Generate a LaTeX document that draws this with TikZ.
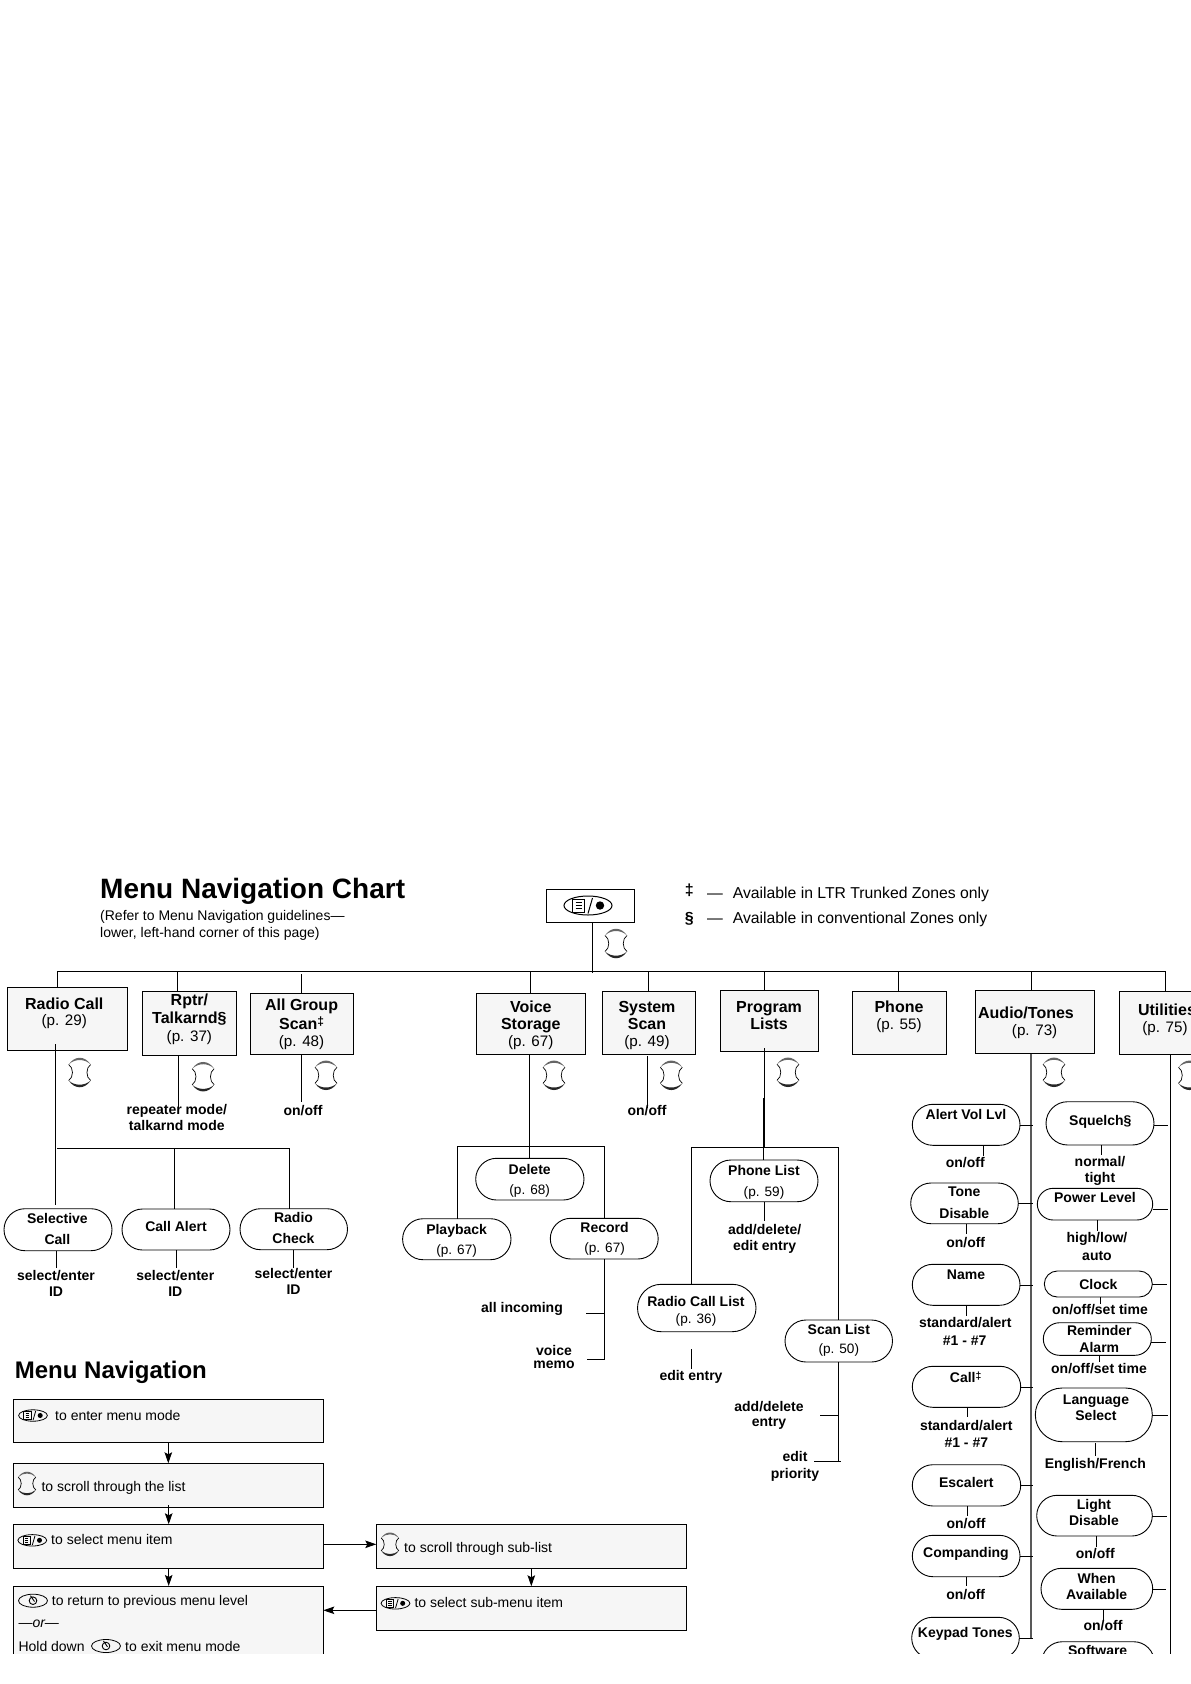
\documentclass[tikz,border=0pt]{standalone}
\usepackage{fontspec}
\setmainfont{Liberation Sans}
\usetikzlibrary{shapes.misc,arrows.meta}
\definecolor{boxfill}{HTML}{F6F6F6}
\newcount\tn
\newcommand\lb[4][bl]{\global\advance\tn by 1 \node[#1] (t\the\tn) at (#2,#3) {#4};}
\newcommand\mkbox[6][menubox]{\node[#1,minimum width={(#4-#3)*1pt},minimum height={(#6-#5)*1pt}] (#2) at ({(#3+#4)/2},{(#5+#6)/2}) {};}
\newcommand\pill[5]{\node[pillbox,minimum width={(#3-#2)*1pt},minimum height={(#5-#4)*1pt}] (#1) at ({(#2+#3)/2},{(#4+#5)/2}) {};}
% vertical line from y to the top of a node / from the bottom of a node to y
\newcommand\toN[3]{\draw[ln] (#1,#2) -- (#1,#2 |- #3.north);}
\newcommand\frS[3]{\draw[ln] (#1,#2 |- #3.south) -- (#1,#2);}
\newcommand\hrt[3]{\draw[ln] (#2.east |- 0,#1) -- (#3,#1);}
\newcommand\updag[1]{\raisebox{3.2pt}{\fontsize{#1}{#1}\selectfont ‡}}
\newcommand\keybody[2]{%
  \draw[line width=#1] (0,0) ellipse [x radius=24pt,y radius=9.5pt];
  \draw[line width=#1] (-15.5,-6.5) rectangle (-3.5,6.5);
  \foreach \yy in {-3.2,0,3.2}{\draw[line width=#2] (-12.5,\yy) -- (-6.5,\yy);}
  \draw[line width=#1] (4.5,-7.5) -- (0,8);
  \fill (12,0) circle [radius=4.2pt];
}
\tikzset{
  ln/.style={line width=1pt,black},
  arr/.style={line width=1pt,black,-{Stealth[length=11pt,width=7.5pt,inset=2pt]}},
  menubox/.style={draw=black,line width=1pt,fill=boxfill,rectangle,inner sep=0pt,outer sep=0pt},
  pillbox/.style={draw=black,line width=.9pt,rounded rectangle,inner sep=0pt,outer sep=0pt},
  bl/.style={anchor=base,inner sep=0pt,font=\fontsize{14}{16}\selectfont\bfseries},
  rg/.style={anchor=base,inner sep=0pt,font=\fontsize{13.6}{16}\selectfont},
  hb/.style={anchor=base,inner sep=0pt,font=\fontsize{16}{18}\selectfont\bfseries},
  hr/.style={anchor=base,inner sep=0pt,font=\fontsize{15.2}{18}\selectfont},
  note/.style={anchor=base west,inner sep=0pt,font=\fontsize{14}{16}\selectfont},
  legend/.style={anchor=base west,inner sep=0pt,font=\fontsize{15.75}{18}\selectfont},
  legendb/.style={anchor=base,inner sep=0pt,font=\fontsize{16}{18}\selectfont\bfseries},
  scrollkey/.pic={
    \draw[line width=.7pt] (-11,-8) .. controls (-6,-5) and (-6,5) .. (-11,8);
    \draw[line width=.7pt] (11,-8) .. controls (6,-5) and (6,5) .. (11,8);
    \fill[black!60] (-11,-8) .. controls (-5,-17) and (5,-17) .. (11,-8)
       .. controls (5,-14) and (-5,-14) .. (-11,-8) -- cycle;
    \fill[black!85] (-11,8) .. controls (-5,17) and (5,17) .. (11,8)
       .. controls (5,13.6) and (-5,13.6) .. (-11,8) -- cycle;
  },
  menukey/.pic={\keybody{1pt}{.8pt}},
  smallkey/.pic={\keybody{.8pt}{.45pt}},
  backkey/.pic={
    \draw[line width=.8pt] (0,0) ellipse [x radius=14.5pt,y radius=6.5pt];
    \draw[line width=.9pt] (0,0) circle [radius=3.8pt];
    \draw[line width=.9pt] (-2.5,-5) -- (1.5,.8);
  },
}
\begin{document}
\begin{tikzpicture}[x=1pt,y=-1pt]
\useasboundingbox (0,0) rectangle (1191,1684);
\begin{scope}
\clip (0,0) rectangle (1191,1653.3);

% ---------- heading
\node[anchor=base west,inner sep=0pt,font=\fontsize{28}{30}\selectfont\bfseries] (title) at (100,898) {Menu Navigation Chart};
\lb[note]{100}{920}{(Refer to Menu Navigation guidelines—}
\lb[note]{100}{937}{lower, left-hand corner of this page)}
\lb[legendb]{689.3}{895}{‡}
\lb[legendb]{689.3}{923}{§}
\lb[legend]{707}{898.7}{—}
\lb[legend]{707}{923.7}{—}
\lb[legend]{732.6}{898.7}{Available in LTR Trunked Zones only}
\lb[legend]{732.6}{923.7}{Available in conventional Zones only}

% ---------- top key
\node[draw=black,line width=1pt,rectangle,inner sep=0pt,outer sep=0pt,minimum width=88pt,minimum height=33pt] (top) at (590,905.5) {};
\pic at (588,905.5) {menukey};
\pic at (616,943.5) {scrollkey};

% ---------- menu boxes
\mkbox{radio}{7}{127}{987.3}{1050.7}
\mkbox{rptr}{142}{236}{991.3}{1055.3}
\mkbox{allgroup}{250}{353}{993.3}{1054.7}
\mkbox{voice}{476}{585}{993.3}{1054.7}
\mkbox{system}{602}{695}{991.3}{1054.7}
\mkbox{program}{720}{818}{990.3}{1051.7}
\mkbox{phone}{852.5}{946}{991.3}{1054.7}
\mkbox{audio}{975}{1094}{990.3}{1053.7}
\mkbox{util}{1119}{1240}{991.3}{1054.7}

\lb[hb]{64.3}{1009}{Radio Call}\lb[hr]{64.3}{1025.7}{(p. 29)}
\lb[hb]{189.4}{1005.7}{Rptr/}\lb[hb]{189.4}{1023.3}{Talkarnd§}\lb[hr]{189.4}{1041}{(p. 37)}
\lb[hb]{301.6}{1010.7}{All Group}\lb[hb]{301.6}{1029}{Scan\updag{12}}\lb[hr]{301.6}{1046.3}{(p. 48)}
\lb[hb]{530.8}{1012.7}{Voice}\lb[hb]{530.8}{1029.3}{Storage}\lb[hr]{530.8}{1046.3}{(p. 67)}
\lb[hb]{647}{1012.7}{System}\lb[hb]{647}{1029.3}{Scan}\lb[hr]{647}{1046.3}{(p. 49)}
\lb[hb]{769}{1012}{Program}\lb[hb]{769}{1029}{Lists}
\lb[hb]{899}{1012}{Phone}\lb[hr]{899}{1029.3}{(p. 55)}
\lb[hb]{1026}{1018}{Audio/Tones}\lb[hr]{1034.6}{1035}{(p. 73)}
\lb[hb]{1167}{1015.7}{Utilities}\lb[hr]{1165}{1032.3}{(p. 75)}

\pic at (79.7,1072.5) {scrollkey};
\pic at (203.2,1076.7) {scrollkey};
\pic at (326,1075.3) {scrollkey};
\pic at (554,1075.3) {scrollkey};
\pic at (671.3,1075.3) {scrollkey};
\pic at (788,1072.3) {scrollkey};
\pic at (1054,1072.3) {scrollkey};
\pic at (1189.5,1075.3) {scrollkey};

% ---------- radio call branch
\pill{selective}{4}{112}{1208.7}{1250.7}
\pill{callalert}{122}{230}{1209}{1250}
\pill{radiocheck}{240}{347.5}{1208.7}{1249.7}
\lb{57.4}{1223.3}{Selective}\lb{57.4}{1244}{Call}
\lb{176}{1231}{Call Alert}
\lb{293.5}{1222.3}{Radio}\lb{293.5}{1243.3}{Check}
\lb{56}{1280}{select/enter}\lb{56}{1296}{ID}
\lb{175.3}{1280}{select/enter}\lb{175.3}{1296}{ID}
\lb{293.5}{1278}{select/enter}\lb{293.5}{1294.7}{ID}
\lb{176.8}{1114}{repeater mode/}\lb{176.8}{1130}{talkarnd mode}
\lb{303}{1115.7}{on/off}
\lb{647}{1115.7}{on/off}

% ---------- voice storage branch
\pill{delete}{475.7}{584}{1158.3}{1200}
\pill{playback}{402.6}{511}{1218.7}{1259.7}
\pill{record}{550.3}{658.2}{1218.3}{1259}
\lb{529.7}{1174}{Delete}\lb[rg]{529.7}{1194.3}{(p. 68)}
\lb{456.6}{1234}{Playback}\lb[rg]{456.6}{1254.7}{(p. 67)}
\lb{604.6}{1232}{Record}\lb[rg]{604.6}{1252.3}{(p. 67)}
\lb{522}{1312.7}{all incoming}
\lb{554}{1355.7}{voice}\lb{554}{1368.7}{memo}

% ---------- program lists branch
\pill{phonelist}{710}{818}{1160}{1201.7}
\pill{radiolist}{637.5}{756}{1284.3}{1331.7}
\pill{scanlist}{785}{892.5}{1320}{1362}
\lb{764}{1175}{Phone List}\lb[rg]{764}{1196}{(p. 59)}
\lb{764.6}{1234}{add/delete/}\lb{764.6}{1250}{edit entry}
\lb{696}{1306.7}{Radio Call List}\lb[rg]{696}{1323.3}{(p. 36)}
\lb{691}{1380.7}{edit entry}
\lb{838.8}{1334}{Scan List}\lb[rg]{838.8}{1353.3}{(p. 50)}
\lb{769}{1411}{add/delete}\lb{769}{1426.7}{entry}
\lb{795}{1461.7}{edit}\lb{795}{1478.7}{priority}

% ---------- audio/tones left column
\pill{alertvol}{912.3}{1020}{1104.3}{1145.3}
\pill{tone}{910.7}{1018.3}{1183}{1223.7}
\pill{name}{912.3}{1020}{1264.3}{1305.3}
\pill{call}{912.3}{1020.7}{1366.3}{1407.3}
\pill{escalert}{912.3}{1020.7}{1464.7}{1506}
\pill{companding}{912.3}{1020}{1535.3}{1576.7}
\pill{keypad}{911.7}{1019.3}{1617.3}{1658.7}
\lb{966}{1119}{Alert Vol Lvl}\lb{965.3}{1167.7}{on/off}
\lb{964.3}{1196.7}{Tone}\lb{964.3}{1218}{Disable}\lb{965.7}{1247.3}{on/off}
\lb{966}{1279}{Name}\lb{965.3}{1327.7}{standard/alert}\lb{964.7}{1345}{\#1 - \#7}
\lb{965.7}{1382.7}{Call\updag{10.5}}\lb{966.3}{1430}{standard/alert}\lb{966.3}{1447}{\#1 - \#7}
\lb{966.3}{1487.7}{Escalert}\lb{966}{1528}{on/off}
\lb{966}{1557.7}{Companding}\lb{965.7}{1599}{on/off}
\lb{965.3}{1637}{Keypad Tones}

% ---------- audio/tones right column
\pill{squelch}{1046}{1154}{1101.7}{1145}
\pill{power}{1037.3}{1152.7}{1188.3}{1220}
\pill{clock}{1044.3}{1152.3}{1271}{1297}
\pill{reminder}{1043.3}{1151.3}{1322.7}{1355.3}
\pill{language}{1035.3}{1152.3}{1388}{1441.7}
\pill{light}{1036.7}{1152.3}{1495.3}{1536}
\pill{when}{1041}{1152.7}{1568.3}{1609.3}
\pill{software}{1041.7}{1154.3}{1641.7}{1683}
\lb{1100.3}{1125}{Squelch§}\lb{1100}{1166.3}{normal/}\lb{1100}{1182}{tight}
\lb{1095}{1202}{Power Level}\lb{1097}{1242.7}{high/low/}\lb{1097}{1260}{auto}
\lb{1098.3}{1289}{Clock}\lb{1100}{1314.7}{on/off/set time}
\lb{1099.3}{1335}{Reminder}\lb{1099.3}{1352.3}{Alarm}\lb{1099}{1373.7}{on/off/set time}
\lb{1096}{1404}{Language}\lb{1096}{1420.7}{Select}\lb{1095.3}{1468.7}{English/French}
\lb{1094}{1509}{Light}\lb{1094}{1525.7}{Disable}\lb{1095.3}{1558.7}{on/off}
\lb{1096.7}{1583}{When}\lb{1096.7}{1599.7}{Available}\lb{1103}{1630.7}{on/off}
\lb{1097.7}{1655}{Software}

% ---------- how-to panel
\node[anchor=base west,inner sep=0pt,font=\fontsize{24}{26}\selectfont\bfseries] (navtitle) at (14.7,1378.3) {Menu Navigation};
\mkbox{nav1}{13.3}{323.3}{1399.3}{1442.3}
\mkbox{nav2}{13.3}{323.3}{1463.3}{1507.3}
\mkbox{nav3}{13.3}{323.3}{1524.3}{1568.3}
\mkbox{nav4}{13.3}{323.3}{1586}{1700}
\mkbox{navA}{376.3}{686.6}{1524.3}{1568.3}
\mkbox{navB}{376.3}{686.6}{1586.3}{1630.3}
\pic[scale=.6] at (33,1415.5) {smallkey};
\lb[note]{55}{1420}{to enter menu mode}
\pic[scale=.8] at (27,1483.5) {scrollkey};
\lb[note]{41.3}{1491}{to scroll through the list}
\pic[scale=.6] at (32.3,1540.3) {smallkey};
\lb[note]{51}{1544.7}{to select menu item}
\pic at (33,1600.7) {backkey};
\lb[note]{51.7}{1605}{to return to previous menu level}
\lb[note]{18.3}{1627.3}{\itshape —or—}
\lb[note]{18.3}{1651}{Hold down}
\pic at (106,1646) {backkey};
\lb[note]{125}{1651}{to exit menu mode}
\pic[scale=.8] at (390,1544.3) {scrollkey};
\lb[note]{404}{1552}{to scroll through sub-list}
\pic[scale=.6] at (395.5,1603.3) {smallkey};
\lb[note]{414.3}{1607.7}{to select sub-menu item}

% ---------- connectors: main bus
\coordinate (busL) at (57.4,971.7);
\coordinate (busR) at (1165.7,971.7);
\draw[ln] (busL) -- (busR);
\draw[ln] (592,971.7 |- top.south) -- (592,973);
\toN{57.4}{971.7}{radio}
\toN{177.6}{971.7}{rptr}
\toN{301.6}{974.3}{allgroup}
\toN{530}{971.7}{voice}
\toN{648}{971.7}{system}
\toN{764.4}{971.7}{program}
\toN{898.5}{971.7}{phone}
\toN{1031}{971.7}{audio}
\toN{1165.7}{971.7}{util}

% radio call
\draw[ln] (55.5,1044) -- (55.5,1204.7);
\draw[ln] (57.4,1148.3) -- (289.3,1148.3);
\toN{174.5}{1148.3}{callalert}
\toN{289.3}{1148.3}{radiocheck}
\frS{56.6}{1268}{selective}
\frS{176.4}{1268}{callalert}
\frS{293.5}{1268}{radiocheck}
% rptr, all group, system scan
\frS{178.3}{1108.3}{rptr}
\frS{301.2}{1101.7}{allgroup}
\draw[ln] (647.5,1056) -- (647.5,1108.3);
% voice storage
\draw[ln] (529.7,1054.7) -- (529.7,1054.7 |- delete.north);
\draw[ln] (457.3,1146) -- (604.6,1146);
\toN{457.3}{1146}{playback}
\toN{604.6}{1146}{record}
\frS{604.6}{1359.3}{record}
\draw[ln] (586,1313.3) -- (604.6,1313.3);
\draw[ln] (587,1359.3) -- (604.6,1359.3);
% program lists
\draw[ln] (764.4,1048.3) -- (764.4,1098.3);
\draw[line width=1.8pt] (763.6,1098.3) -- (763.6,1147.3);
\draw[ln] (691.6,1147.3) -- (838.4,1147.3);
\toN{763.3}{1147.3}{phonelist}
\frS{764.8}{1221}{phonelist}
\toN{691.6}{1147.3}{radiolist}
\draw[ln] (691.4,1349.3) -- (691.4,1369.3);
\toN{838.4}{1147.3}{scanlist}
\frS{838.4}{1461.3}{scanlist}
\draw[ln] (820,1415.3) -- (838.4,1415.3);
\draw[ln] (814,1461.3) -- (840.7,1461.3);
% audio
\draw[line width=1.2pt,black!65] (1031,1053.7) -- (1031,1638.3);
\draw[ln] (1170.5,1054.7) -- (1170.5,1660);
\hrt{1125}{alertvol}{1032.7}
\hrt{1203.3}{tone}{1032.7}
\hrt{1285.3}{name}{1032.7}
\hrt{1387.3}{call}{1032.7}
\hrt{1485.3}{escalert}{1032.7}
\hrt{1556.3}{companding}{1032.7}
\hrt{1638.3}{keypad}{1032.7}
\frS{983.3}{1155.7}{alertvol}
\frS{966.7}{1234.3}{tone}
\frS{966.7}{1316}{name}
\frS{967.3}{1416.7}{call}
\frS{967.3}{1516}{escalert}
\frS{966.3}{1586}{companding}
\hrt{1125}{squelch}{1168}
\hrt{1209}{power}{1168}
\hrt{1284}{clock}{1166.7}
\hrt{1342.3}{reminder}{1166}
\hrt{1415}{language}{1168}
\hrt{1516}{light}{1166.7}
\hrt{1589.3}{when}{1166}
\frS{1101.3}{1155}{squelch}
\frS{1097.7}{1230.7}{power}
\frS{1100.3}{1304}{clock}
\frS{1099.3}{1361.7}{reminder}
\draw[ln] (1095.3,1443) -- (1095.3,1456);
\frS{1096.3}{1546.7}{light}
\frS{1103.3}{1620}{when}
% panel arrows
\draw[arr] (168.3,1442.3 |- nav1.south) -- (168.3,1442.3 |- nav2.north);
\draw[arr] (168.7,1505) -- (168.7,1442.3 |- nav3.north);
\draw[arr] (168.7,1442.3 |- nav3.south) -- (168.7,1442.3 |- nav4.north);
\draw[arr] (nav3.east |- 0,1544.3) -- (navA.west |- 0,1544.3);
\draw[arr] (531.3,1442.3 |- navA.south) -- (531.3,1442.3 |- navB.north);
\draw[arr] (navB.west |- 0,1610.3) -- (nav4.east |- 0,1610.3);
\end{scope}
\end{tikzpicture}
\end{document}
